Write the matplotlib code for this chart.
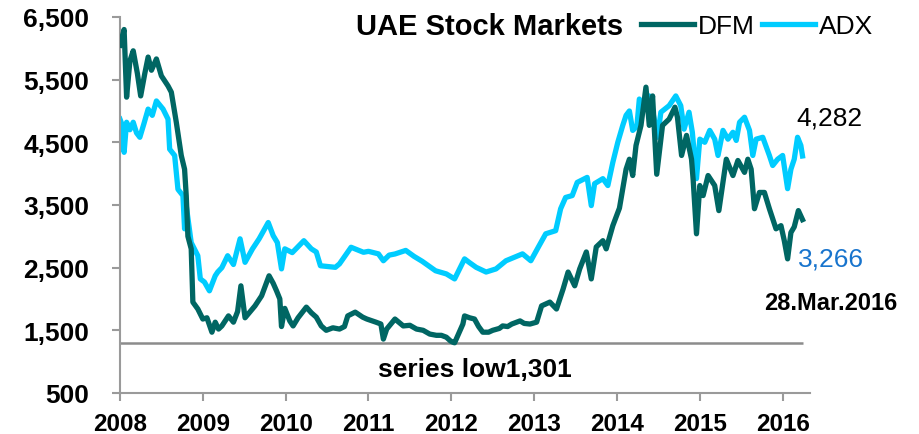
import matplotlib
matplotlib.use("Agg")
import matplotlib.pyplot as plt
import numpy as np

plt.rcParams['font.family'] = ['Liberation Sans', 'DejaVu Sans']

# decimal years and index levels
dfm_t = [2008.00, 2008.03, 2008.05, 2008.08, 2008.12, 2008.16, 2008.21, 2008.25, 2008.30, 2008.34,
         2008.38, 2008.44, 2008.50, 2008.54, 2008.58, 2008.62, 2008.68, 2008.74, 2008.78, 2008.80,
         2008.82, 2008.86, 2008.88, 2008.94, 2009.00, 2009.05, 2009.11, 2009.15, 2009.19, 2009.23,
         2009.31, 2009.37, 2009.42, 2009.46, 2009.51, 2009.56, 2009.63, 2009.71, 2009.80, 2009.85,
         2009.89, 2009.93, 2009.95, 2009.99, 2010.05, 2010.09, 2010.15, 2010.25, 2010.31, 2010.37,
         2010.43, 2010.49, 2010.57, 2010.65, 2010.71, 2010.75, 2010.84, 2010.93, 2010.98, 2011.09,
         2011.15, 2011.18, 2011.22, 2011.32, 2011.42, 2011.50, 2011.58, 2011.66, 2011.74, 2011.82,
         2011.88, 2011.94, 2011.99, 2012.02, 2012.04, 2012.08, 2012.14, 2012.16, 2012.22, 2012.28,
         2012.33, 2012.38, 2012.45, 2012.50, 2012.58, 2012.62, 2012.68, 2012.73, 2012.83, 2012.88,
         2012.95, 2013.03, 2013.09, 2013.19, 2013.27, 2013.35, 2013.41, 2013.49, 2013.55, 2013.63,
         2013.69, 2013.75, 2013.83, 2013.87, 2013.95, 2014.03, 2014.11, 2014.15, 2014.19, 2014.23,
         2014.29, 2014.35, 2014.39, 2014.43, 2014.48, 2014.55, 2014.63, 2014.70, 2014.73, 2014.78,
         2014.84, 2014.90, 2014.92, 2014.96, 2015.00, 2015.04, 2015.10, 2015.18, 2015.23, 2015.32,
         2015.40, 2015.46, 2015.54, 2015.58, 2015.62, 2015.66, 2015.72, 2015.78, 2015.84, 2015.92,
         2015.98, 2016.02, 2016.06, 2016.10, 2016.14, 2016.19, 2016.24]
dfm_v = [6050, 6200, 6300, 5220, 5800, 5960, 5600, 5240, 5600, 5860,
         5650, 5830, 5560, 5480, 5400, 5300, 4820, 4290, 4070, 3650,
         3000, 2800, 1950, 1840, 1680, 1700, 1470, 1630, 1520, 1570,
         1730, 1630, 1800, 2210, 1700, 1780, 1890, 2050, 2370, 2250,
         2130, 2000, 1560, 1850, 1650, 1570, 1700, 1870, 1780, 1710,
         1570, 1500, 1540, 1520, 1560, 1730, 1790, 1710, 1680, 1630,
         1600, 1360, 1520, 1680, 1570, 1580, 1520, 1500, 1440, 1420,
         1420, 1390, 1330, 1310, 1301, 1420, 1600, 1730, 1700, 1680,
         1560, 1470, 1470, 1500, 1530, 1570, 1560, 1600, 1650, 1610,
         1600, 1630, 1890, 1950, 1840, 2160, 2430, 2210, 2480, 2750,
         2320, 2830, 2930, 2800, 3170, 3450, 4070, 4230, 3970, 4450,
         4770, 5380, 4770, 5240, 3990, 4770, 4870, 5060, 4900, 4290,
         4610, 4230, 3900, 3040, 3810, 3650, 3970, 3810, 3410, 4230,
         3970, 4210, 4020, 4230, 4070, 3440, 3700, 3700, 3440, 3120,
         3170, 2930, 2640, 3060, 3150, 3410, 3266]

adx_t = [2008.00, 2008.02, 2008.05, 2008.08, 2008.12, 2008.16, 2008.20, 2008.24, 2008.29, 2008.34,
         2008.39, 2008.44, 2008.52, 2008.58, 2008.60, 2008.66, 2008.70, 2008.76, 2008.78, 2008.80,
         2008.86, 2008.94, 2008.97, 2009.02, 2009.08, 2009.15, 2009.18, 2009.23, 2009.30, 2009.37,
         2009.45, 2009.51, 2009.60, 2009.68, 2009.79, 2009.85, 2009.90, 2009.95, 2009.99, 2010.08,
         2010.22, 2010.31, 2010.37, 2010.42, 2010.60, 2010.65, 2010.79, 2010.94, 2011.00, 2011.12,
         2011.18, 2011.25, 2011.32, 2011.45, 2011.55, 2011.65, 2011.81, 2011.94, 2012.04, 2012.10,
         2012.16, 2012.22, 2012.30, 2012.42, 2012.54, 2012.66, 2012.86, 2012.96, 2013.06, 2013.14,
         2013.26, 2013.32, 2013.38, 2013.46, 2013.52, 2013.64, 2013.69, 2013.73, 2013.83, 2013.89,
         2013.95, 2014.01, 2014.07, 2014.11, 2014.15, 2014.19, 2014.24, 2014.27, 2014.33, 2014.39,
         2014.45, 2014.49, 2014.53, 2014.63, 2014.71, 2014.77, 2014.81, 2014.87, 2014.91, 2014.96,
         2015.00, 2015.06, 2015.12, 2015.18, 2015.22, 2015.28, 2015.34, 2015.40, 2015.44, 2015.48,
         2015.54, 2015.60, 2015.64, 2015.68, 2015.76, 2015.84, 2015.88, 2015.94, 2016.00, 2016.06,
         2016.10, 2016.14, 2016.18, 2016.22, 2016.24]
adx_v = [4870, 4800, 4340, 4820, 4700, 4820, 4650, 4580, 4800, 5030,
         4930, 5160, 5030, 4870, 4390, 4290, 3750, 3650, 3120, 3490,
         2900, 2690, 2320, 2270, 2130, 2370, 2430, 2500, 2690, 2550,
         2960, 2585, 2800, 2960, 3220, 3010, 2900, 2480, 2800, 2740,
         2930, 2800, 2750, 2530, 2505, 2560, 2825, 2745, 2760, 2720,
         2610, 2700, 2718, 2775, 2680, 2600, 2450, 2400, 2320, 2480,
         2640, 2580, 2505, 2430, 2480, 2610, 2720, 2610, 2850, 3040,
         3090, 3440, 3620, 3650, 3860, 3940, 3490, 3840, 3920, 3810,
         4180, 4500, 4770, 4930, 5000, 4690, 4750, 5190, 5030, 5240,
         4870, 4580, 4980, 5085, 5240, 5085, 4710, 4980, 4660, 3920,
         4550, 4500, 4690, 4550, 4290, 4690, 4550, 4660, 4530, 4820,
         4900, 4690, 4290, 4550, 4580, 4290, 4130, 4230, 4290, 3760,
         4070, 4230, 4580, 4450, 4282]

years = list(range(2008, 2017))
yticks = [500, 1500, 2500, 3500, 4500, 5500, 6500]
series_low = 1301

dfm_col = '#006663'
adx_col = '#00CCFF'
grey = '#9A9A9A'

fig = plt.figure(figsize=(9.2, 4.35), dpi=100)
ax = fig.add_axes([0.1304, 0.0943, 0.7500, 0.8644])

ax.plot(dfm_t, dfm_v, color=dfm_col, lw=3.8, solid_joinstyle='round', label='DFM', zorder=3)
ax.plot(adx_t, adx_v, color=adx_col, lw=3.8, solid_joinstyle='round', label='ADX', zorder=2)
ax.hlines(series_low, dfm_t[0], dfm_t[-1], color='#8C8C8C', lw=1.8, zorder=1)

ax.set_xlim(2008.0, 2016.33)
ax.set_ylim(500, 6500)
ax.set_xticks(years)
ax.set_xticklabels([str(y) for y in years], fontsize=17.5, fontweight='bold')
ax.set_yticks(yticks)
ax.set_yticklabels([f"{v:,}" for v in yticks], fontsize=19, fontweight='bold')

for s in ['top', 'right']:
    ax.spines[s].set_visible(False)
for s in ['left', 'bottom']:
    ax.spines[s].set_color(grey)
    ax.spines[s].set_linewidth(1.5)
ax.tick_params(axis='x', length=6, width=1.5, color=grey, pad=8)
ax.tick_params(axis='y', length=6, width=1.5, color=grey, pad=16)

ax.text(0.536, 0.975, 'UAE Stock Markets', transform=ax.transAxes, ha='center', va='center',
        fontsize=21, fontweight='bold')
ax.legend(loc='center left', bbox_to_anchor=(0.755, 0.975), ncol=2, frameon=False,
          fontsize=19, handlelength=2.0, handletextpad=0.15, columnspacing=0.3,
          borderaxespad=0, borderpad=0)

ax.text(dfm_t[-1] - 0.07, 4900, f"{adx_v[-1]:,}", ha='left', va='center', fontsize=19,
        color='black', clip_on=False)
ax.text(dfm_t[-1] - 0.05, 2650, f"{dfm_v[-1]:,}", ha='left', va='center', fontsize=19,
        color='#1874CD', clip_on=False)
ax.text(2017.38, 1950, '28.Mar.2016', ha='right', va='center', fontsize=17,
        fontweight='bold', clip_on=False)
ax.text(2012.29, 885, f"series low{series_low:,}", ha='center', va='center', fontsize=19,
        fontweight='bold')

fig.savefig('out.png', dpi=100)
